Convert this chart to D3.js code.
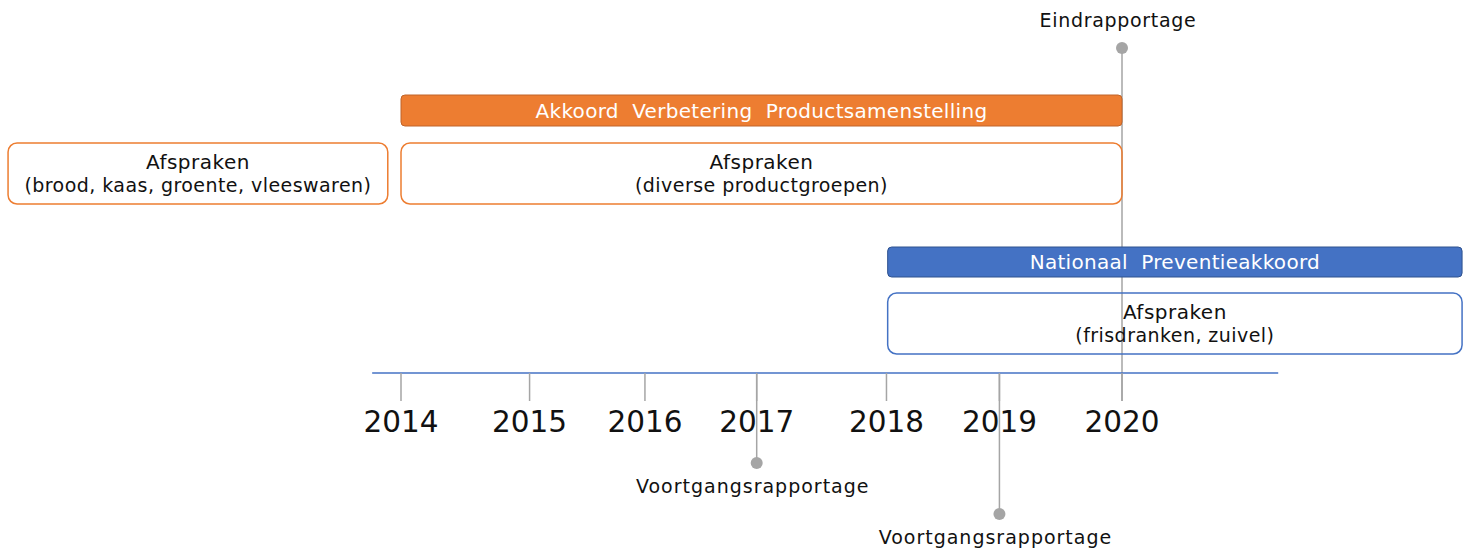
<!DOCTYPE html>
<html>
<head>
<meta charset="utf-8">
<script src="https://cdn.jsdelivr.net/npm/d3@7"></script>
<style>
  body { margin: 0; background: #fff; }
  text { font-family: "DejaVu Sans", Verdana, sans-serif; }
</style>
</head>
<body>
<script>
// years on the axis and where their ticks sit (in years, the timeline is not evenly spaced)
var years = [2014, 2015, 2016, 2017, 2018, 2019, 2020];
var tickAt = [2014, 2015.07, 2016.03, 2016.96, 2018.04, 2018.98, 2020];
var axisExtent = [2013.76, 2021.30];

// agreements (filled bars) and their arrangements (outlined boxes)
var bars = [
    { label: "Akkoord  Verbetering  Productsamenstelling", start: 2014, end: 2020, lane: 0, color: "#ED7D31", edge: "#C0652A" },
    { label: "Nationaal  Preventieakkoord", start: 2018.05, end: 2022.83, lane: 2, color: "#4472C4", edge: "#2F528F" }
];
var boxes = [
    { title: "Afspraken", sub: "(brood, kaas, groente, vleeswaren)", start: 2010.73, end: 2013.89, lane: 1, color: "#ED7D31" },
    { title: "Afspraken", sub: "(diverse productgroepen)", start: 2014, end: 2020, lane: 1, color: "#ED7D31" },
    { title: "Afspraken", sub: "(frisdranken, zuivel)", start: 2018.05, end: 2022.83, lane: 3, color: "#4472C4" }
];

// reports: tick index and how far the stem goes (up above the axis, or down below it)
var milestones = [
    { label: "Eindrapportage", tick: 6, side: "up", reach: 325 },
    { label: "Voortgangsrapportage", tick: 3, side: "down", reach: 90 },
    { label: "Voortgangsrapportage", tick: 5, side: "down", reach: 141 }
];

var w = 1472;
var h = 552;
var axisY = 373;
var laneY = [95, 143, 247, 293];
var laneH = [31, 61, 30, 61];
var grey = "#A5A5A5";

var svg = d3.select("body").append("svg")
    .attr("width", w)
    .attr("height", h);

var x = d3.scaleLinear()
    .domain([2014, 2020])
    .range([401, 1122]);

// stems of the milestones go behind everything
milestones.forEach(function(m) {
    var mx = x(tickAt[m.tick]);
    var y1 = m.side == "up" ? axisY - m.reach : axisY;
    var y2 = m.side == "up" ? axisY + 28 : axisY + m.reach;
    svg.append("line")
        .attr("x1", mx).attr("x2", mx)
        .attr("y1", y1).attr("y2", y2)
        .style("stroke", grey)
        .style("stroke-width", 1.5);
});

// outlined boxes
var box = svg.selectAll("g.box")
    .data(boxes)
    .enter()
    .append("g")
    .attr("class", "box");

box.append("rect")
    .attr("x", function(d) { return x(d.start); })
    .attr("y", function(d) { return laneY[d.lane]; })
    .attr("width", function(d) { return x(d.end) - x(d.start); })
    .attr("height", function(d) { return laneH[d.lane]; })
    .attr("rx", 9)
    .attr("fill", "none")
    .attr("stroke", function(d) { return d.color; })
    .attr("stroke-width", 1.5);

box.append("text")
    .text(function(d) { return d.title; })
    .attr("x", function(d) { return (x(d.start) + x(d.end)) / 2; })
    .attr("y", function(d) { return laneY[d.lane] + 26; })
    .attr("text-anchor", "middle")
    .attr("font-size", "20px")
    .attr("letter-spacing", "0.5px")
    .attr("fill", "#111");

box.append("text")
    .text(function(d) { return d.sub; })
    .attr("x", function(d) { return (x(d.start) + x(d.end)) / 2; })
    .attr("y", function(d) { return laneY[d.lane] + 49; })
    .attr("text-anchor", "middle")
    .attr("font-size", "19px")
    .attr("letter-spacing", "0.45px")
    .attr("fill", "#111");

// filled bars
svg.selectAll("rect.bar")
    .data(bars)
    .enter()
    .append("rect")
    .attr("class", "bar")
    .attr("x", function(d) { return x(d.start); })
    .attr("y", function(d) { return laneY[d.lane]; })
    .attr("width", function(d) { return x(d.end) - x(d.start); })
    .attr("height", function(d) { return laneH[d.lane]; })
    .attr("rx", 4)
    .attr("fill", function(d) { return d.color; })
    .attr("stroke", function(d) { return d.edge; })
    .attr("stroke-width", 1);

svg.selectAll("text.bar")
    .data(bars)
    .enter()
    .append("text")
    .attr("class", "bar")
    .text(function(d) { return d.label; })
    .attr("x", function(d) { return (x(d.start) + x(d.end)) / 2; })
    .attr("y", function(d) { return laneY[d.lane] + laneH[d.lane] / 2 + 7; })
    .attr("text-anchor", "middle")
    .attr("font-size", "20px")
    .attr("letter-spacing", "0.3px")
    .attr("fill", "white")
    .style("white-space", "pre");

// timeline
svg.append("line")
    .attr("x1", x(axisExtent[0]))
    .attr("x2", x(axisExtent[1]))
    .attr("y1", axisY)
    .attr("y2", axisY)
    .style("stroke", "#4472C4")
    .style("stroke-width", 1.5);

svg.selectAll("line.tick")
    .data(tickAt)
    .enter()
    .append("line")
    .attr("class", "tick")
    .attr("x1", function(d) { return x(d); })
    .attr("x2", function(d) { return x(d); })
    .attr("y1", axisY)
    .attr("y2", axisY + 28)
    .style("stroke", grey)
    .style("stroke-width", 1.5);

svg.selectAll("text.year")
    .data(years)
    .enter()
    .append("text")
    .attr("class", "year")
    .text(function(d) { return d; })
    .attr("x", function(d, i) { return x(tickAt[i]); })
    .attr("y", 432)
    .attr("text-anchor", "middle")
    .attr("font-size", "29.5px")
    .attr("fill", "#111");

// milestone dots and labels
milestones.forEach(function(m) {
    var mx = x(tickAt[m.tick]);
    var dy = m.side == "up" ? axisY - m.reach : axisY + m.reach;
    svg.append("circle")
        .attr("cx", mx)
        .attr("cy", dy)
        .attr("r", 6)
        .attr("fill", grey);
    svg.append("text")
        .text(m.label)
        .attr("x", mx - 4)
        .attr("y", m.side == "up" ? dy - 21 : dy + 30)
        .attr("text-anchor", "middle")
        .attr("font-size", "19px")
        .attr("letter-spacing", m.side == "up" ? "0.7px" : "1px")
        .attr("fill", "#111");
});
</script>
</body>
</html>
